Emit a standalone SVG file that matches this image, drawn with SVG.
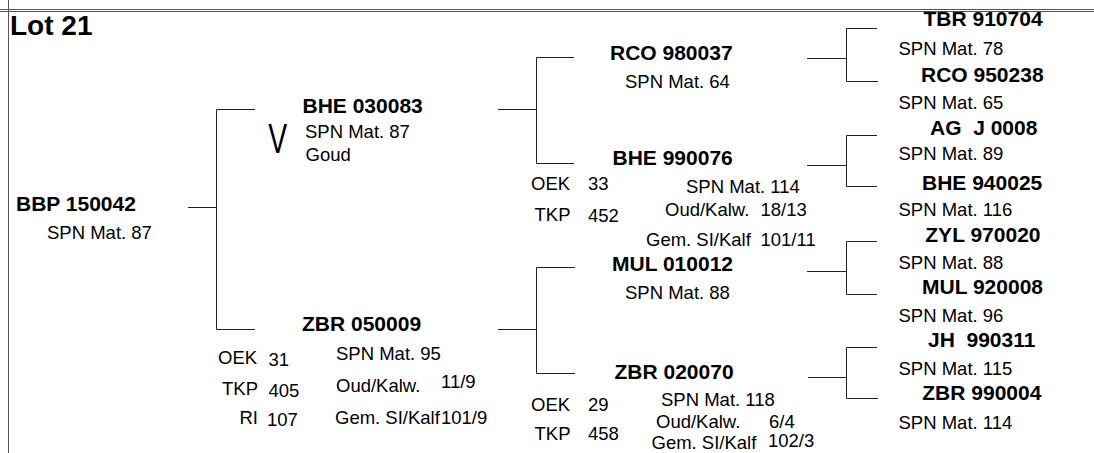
<svg xmlns="http://www.w3.org/2000/svg" width="1094" height="453" viewBox="0 0 1094 453">
<style>
text{font-family:"Liberation Sans",Arial,sans-serif;fill:#000}
.t{font-size:28px;font-weight:bold}
.n{font-size:21px;font-weight:bold}
.a{font-size:18.5px}
.c{fill:none;stroke:#222;stroke-width:1}
.b{fill:none;stroke:#555;stroke-width:1}
</style>
<rect x="0" y="0" width="1094" height="453" fill="#fff"/>
<g id="frame">
<line class="b" x1="0" y1="9.5" x2="1094" y2="9.5"/>
<line class="b" x1="0" y1="11.5" x2="1094" y2="11.5"/>
<line class="b" x1="8.5" y1="0" x2="8.5" y2="453" stroke-width="1.5"/>
</g>
<text class="t" x="10" y="35">Lot 21</text>
<g id="connectors">
<path class="c" d="M188,207.5H216.5M255,109.5H216.5V329.5H255"/>
<path class="c" d="M498,109.5H536.5M574,57.5H536.5V163.5H574"/>
<path class="c" d="M498,329.5H536.5M575,267.5H536.5V373.5H575"/>
<path class="c" d="M807,58.5H846.5M877,28.5H846.5V81.5H878"/>
<path class="c" d="M807,165.5H846.5M877,135.5H846.5V186.5H877"/>
<path class="c" d="M807,271.5H846.5M877,241.5H846.5V294.5H877"/>
<path class="c" d="M808,377.5H846.5M877,347.5H846.5V398.5H878"/>
</g>
<g id="n-bbp150042">
<text class="n" x="16" y="211">BBP 150042</text>
<text class="a" x="47" y="239">SPN Mat. 87</text>
</g>
<g id="n-bhe030083">
<text class="n" x="302.5" y="113">BHE 030083</text>
<text class="a" font-size="43" transform="translate(268.3,153.3) scale(0.66,1)" style="font-size:43px">V</text>
<text class="a" x="305" y="138">SPN Mat. 87</text>
<text class="a" x="305.5" y="161">Goud</text>
</g>
<g id="n-zbr050009">
<text class="n" x="302" y="331">ZBR 050009</text>
<text class="a" x="218" y="364">OEK</text>
<text class="a" x="268.5" y="365.5">31</text>
<text class="a" x="336" y="360">SPN Mat. 95</text>
<text class="a" x="222" y="395">TKP</text>
<text class="a" x="268.5" y="397">405</text>
<text class="a" x="336" y="392">Oud/Kalw.</text>
<text class="a" x="441" y="387.5">11/9</text>
<text class="a" x="239.5" y="424">RI</text>
<text class="a" x="267" y="426">107</text>
<text class="a" x="335" y="423.5">Gem. SI/Kalf</text>
<text class="a" x="441" y="423.5">101/9</text>
</g>
<g id="n-rco980037">
<text class="n" x="610" y="60">RCO 980037</text>
<text class="a" x="625" y="87.5">SPN Mat. 64</text>
</g>
<g id="n-bhe990076">
<text class="n" x="612.5" y="164.5">BHE 990076</text>
<text class="a" x="531" y="190">OEK</text>
<text class="a" x="588" y="190">33</text>
<text class="a" x="686" y="193">SPN Mat. 114</text>
<text class="a" x="534.5" y="221">TKP</text>
<text class="a" x="588" y="221.5">452</text>
<text class="a" x="665" y="216">Oud/Kalw.</text>
<text class="a" x="760.5" y="216">18/13</text>
<text class="a" x="646" y="246">Gem. SI/Kalf</text>
<text class="a" x="760.5" y="246">101/11</text>
</g>
<g id="n-mul010012">
<text class="n" x="612" y="271">MUL 010012</text>
<text class="a" x="625" y="299">SPN Mat. 88</text>
</g>
<g id="n-zbr020070">
<text class="n" x="614.5" y="378.5">ZBR 020070</text>
<text class="a" x="531" y="411">OEK</text>
<text class="a" x="588" y="411">29</text>
<text class="a" x="661" y="406">SPN Mat. 118</text>
<text class="a" x="534.5" y="439.5">TKP</text>
<text class="a" x="588" y="439.5">458</text>
<text class="a" x="656" y="428">Oud/Kalw.</text>
<text class="a" x="769" y="428">6/4</text>
<text class="a" x="651.5" y="448.5">Gem. SI/Kalf</text>
<text class="a" x="768" y="447">102/3</text>
</g>
<g id="n-tbr910704">
<text class="n" x="923.5" y="26">TBR 910704</text>
<text class="a" x="898.5" y="55">SPN Mat. 78</text>
</g>
<g id="n-rco950238">
<text class="n" x="921" y="82">RCO 950238</text>
<text class="a" x="898.5" y="108.5">SPN Mat. 65</text>
</g>
<g id="n-agj0008">
<text class="n" x="930" y="135" xml:space="preserve">AG  J 0008</text>
<text class="a" x="898.5" y="160">SPN Mat. 89</text>
</g>
<g id="n-bhe940025">
<text class="n" x="922" y="189.5">BHE 940025</text>
<text class="a" x="898.5" y="216">SPN Mat. 116</text>
</g>
<g id="n-zyl970020">
<text class="n" x="925.3" y="242">ZYL 970020</text>
<text class="a" x="898.5" y="269">SPN Mat. 88</text>
</g>
<g id="n-mul920008">
<text class="n" x="922" y="294">MUL 920008</text>
<text class="a" x="898.5" y="322">SPN Mat. 96</text>
</g>
<g id="n-jh990311">
<text class="n" x="928" y="347" xml:space="preserve">JH  990311</text>
<text class="a" x="898.5" y="375">SPN Mat. 115</text>
</g>
<g id="n-zbr990004">
<text class="n" x="922.3" y="400">ZBR 990004</text>
<text class="a" x="898.5" y="428.5">SPN Mat. 114</text>
</g>
</svg>
